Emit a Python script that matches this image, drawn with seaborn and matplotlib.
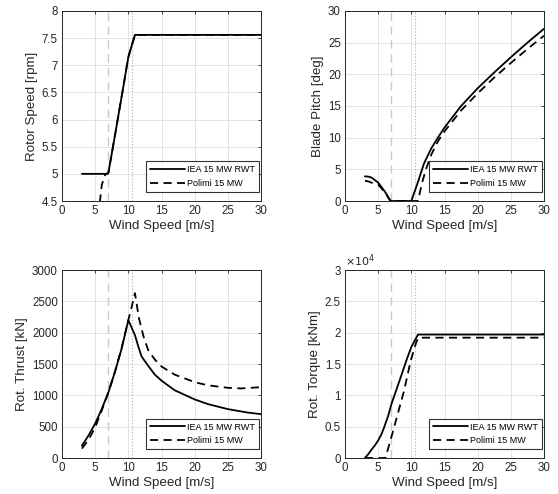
import numpy as np
import pandas as pd
import matplotlib
matplotlib.use("Agg")
import matplotlib.pyplot as plt
import seaborn as sns
from matplotlib.ticker import FuncFormatter

sns.set_theme(style="white")
plt.rcParams['font.family'] = ['Liberation Sans', 'DejaVu Sans']

# ---------------- data ----------------
series_names = ["IEA 15 MW RWT", "Polimi 15 MW"]
wind_label = "Wind Speed [m/s]"

# Rotor speed [rpm]
rs_iea_ws = [3, 4, 5, 6, 6.9, 7.0, 8, 9, 10, 10.5, 11, 15, 20, 25, 30]
rs_iea_v = [5.0, 5.0, 5.0, 5.0, 5.0, 5.02, 5.72, 6.43, 7.15, 7.36, 7.56, 7.56, 7.56, 7.56, 7.56]
rs_pol_ws = [3, 4, 5, 5.5, 6, 6.5, 7, 8, 9, 10, 10.5, 11, 15, 20, 25, 30]
rs_pol_v = [2.0, 3.0, 3.8, 4.25, 4.8, 4.98, 5.03, 5.72, 6.43, 7.15, 7.36, 7.56, 7.56, 7.56, 7.56, 7.56]

# Blade pitch [deg]
bp_iea_ws = [3, 3.5, 4, 5, 6, 6.8, 7, 8, 9, 10.0, 11, 11.9, 13, 14, 15, 17.5, 20, 22.5, 25, 27.5, 30]
bp_iea_v = [3.9, 3.85, 3.7, 2.9, 1.5, 0.1, 0.0, 0.0, 0.0, 0.0, 3.0, 5.9, 8.3, 10.0, 11.6, 15.0, 17.8, 20.3, 22.7, 25.0, 27.2]
bp_pol_ws = [3, 3.5, 4, 5, 6, 6.8, 7, 8, 9, 10, 11.0, 11.6, 12.2, 13, 14, 15, 17.5, 20, 22.5, 25, 27.5, 30]
bp_pol_v = [3.2, 3.1, 2.9, 2.6, 1.4, 0.1, 0.0, 0.0, 0.0, 0.0, 0.0, 2.8, 5.0, 7.3, 9.4, 11.0, 14.3, 17.0, 19.5, 21.8, 24.0, 26.1]

# Rotor thrust [kN]
th_iea_ws = [3, 4, 5, 6, 7, 8, 9, 10, 10.5, 11, 11.5, 12, 13, 14, 15, 17, 20, 22, 25, 28, 30]
th_iea_v = [195, 360, 550, 785, 1050, 1380, 1750, 2200, 2080, 1960, 1780, 1620, 1470, 1330, 1235, 1080, 935, 860, 780, 725, 700]
th_pol_ws = [3, 4, 5, 6, 7, 8, 9, 10, 10.5, 11, 11.6, 12.3, 13, 14, 15, 17, 20, 22, 25, 27, 30]
th_pol_v = [150, 290, 490, 760, 1050, 1380, 1760, 2200, 2410, 2630, 2230, 1935, 1720, 1570, 1460, 1330, 1210, 1160, 1120, 1110, 1130]

# Rotor torque [kNm]
tq_iea_ws = [3, 3.5, 3.9, 4.5, 5, 5.5, 5.9, 6.5, 7, 8.4, 9.4, 10, 10.5, 11, 15, 20, 25, 30]
tq_iea_v = [0, 600, 1200, 2000, 2800, 3800, 4900, 6700, 8600, 12900, 16000, 17700, 18700, 19700, 19700, 19700, 19700, 19700]
tq_pol_ws = [3, 5, 6.1, 7.4, 8.9, 9.9, 10.75, 11.05, 15, 20, 25, 30]
tq_pol_v = [0, 0, 0, 4900, 10700, 15500, 18500, 19200, 19200, 19200, 19200, 19200]

ref_dashed_ws = 7.0
ref_dotted_ws = 10.59

# ---------------- figure ----------------
W, H = 558, 494
fig = plt.figure(figsize=(W / 100, H / 100), dpi=100)

def px_axes(x0, x1, ytop, ybot):
    return fig.add_axes([x0 / W, 1 - ybot / H, (x1 - x0) / W, (ybot - ytop) / H])

axs = [
    px_axes(62, 261, 11, 201),
    px_axes(345, 544, 11, 201),
    px_axes(62, 261, 270, 458),
    px_axes(345, 544, 270, 458),
]

panels = [
    (rs_iea_ws, rs_iea_v, rs_pol_ws, rs_pol_v, "Rotor Speed [rpm]", (4.5, 8), np.arange(4.5, 8.01, 0.5)),
    (bp_iea_ws, bp_iea_v, bp_pol_ws, bp_pol_v, "Blade Pitch [deg]", (0, 30), np.arange(0, 31, 5)),
    (th_iea_ws, th_iea_v, th_pol_ws, th_pol_v, "Rot. Thrust [kN]", (0, 3000), np.arange(0, 3001, 500)),
    (tq_iea_ws, tq_iea_v, tq_pol_ws, tq_pol_v, "Rot. Torque [kNm]", (0, 30000), np.arange(0, 30001, 5000)),
]

spine_col = "#262626"
for i, (ax, (xa, ya, xb, yb, ylab, ylim, yt)) in enumerate(zip(axs, panels)):
    ax.set_facecolor("white")
    ax.grid(True, color="#e3e3e3", linewidth=0.7)
    ax.set_axisbelow(True)
    ax.axvline(ref_dashed_ws, color="#c8c8c8", linestyle=(0, (6, 4)), linewidth=1.0, zorder=1)
    ax.axvline(ref_dotted_ws, color="#b8b8b8", linestyle=(0, (1, 1.5)), linewidth=0.9, zorder=1)
    dfa = pd.DataFrame({"ws": xa, "val": ya})
    dfb = pd.DataFrame({"ws": xb, "val": yb})
    sns.lineplot(data=dfa, x="ws", y="val", ax=ax, color="black", linewidth=1.3,
                 sort=False, estimator=None, label=series_names[0], zorder=3)
    sns.lineplot(data=dfb, x="ws", y="val", ax=ax, color="black", linewidth=1.3,
                 linestyle=(0, (4.5, 3)), sort=False, estimator=None,
                 label=series_names[1], zorder=3)
    ax.set_xlim(0, 30)
    ax.set_ylim(*ylim)
    ax.set_xticks(np.arange(0, 31, 5))
    ax.set_yticks(yt)
    if i == 3:
        ax.yaxis.set_major_formatter(FuncFormatter(lambda v, p: f"{v / 1e4:g}"))
        ax.text(0.0, 1.005, r"$\times10^{4}$", transform=ax.transAxes, fontsize=8,
                color=spine_col, ha="left", va="bottom")
    else:
        ax.yaxis.set_major_formatter(FuncFormatter(lambda v, p: f"{v:g}"))
    ax.set_xlabel(wind_label, fontsize=9.6, color=spine_col, labelpad=2)
    ax.set_ylabel(ylab, fontsize=9.6, color=spine_col, labelpad=3)
    ax.tick_params(axis="both", which="both", direction="in", length=2.5, width=0.6,
                   labelsize=8.3, colors=spine_col, top=True, right=True, pad=3)
    for s in ax.spines.values():
        s.set_visible(True)
        s.set_color(spine_col)
        s.set_linewidth(0.7)
    leg = ax.legend(loc="lower right", bbox_to_anchor=(0.99, 0.047), fontsize=6.5,
                    frameon=True, fancybox=False, borderaxespad=0.0,
                    handlelength=3.9, handletextpad=0.2,
                    labelspacing=0.5, borderpad=0.45)
    leg.get_frame().set_edgecolor("black")
    leg.get_frame().set_linewidth(0.8)
    for t in leg.get_texts():
        t.set_color("black")

fig.savefig("out.png", dpi=100, facecolor="white")
